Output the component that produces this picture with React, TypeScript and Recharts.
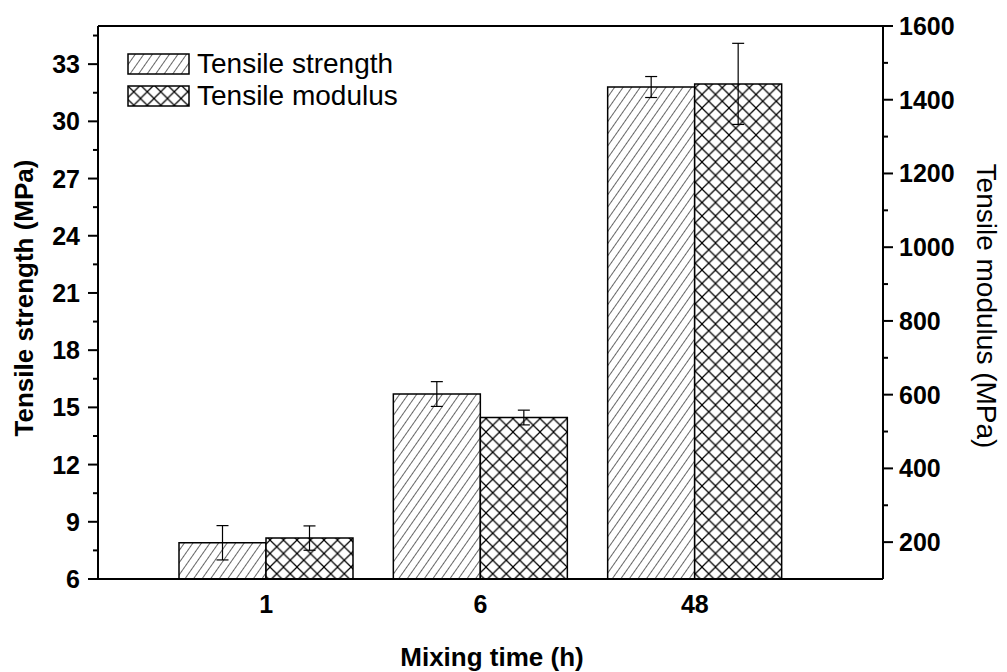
import React from 'react';
import { BarChart, Bar, XAxis, YAxis, ErrorBar, Legend, Label } from 'recharts';

// Mixing time groups (h)
const categories = ['1', '6', '48'];
// Tensile strength (MPa) and its standard deviation
const strength = [7.9, 15.7, 31.8];
const strengthErr = [0.9, 0.65, 0.55];
// Tensile modulus (MPa) and its standard deviation
const modulus = [211, 538, 1443];
const modulusErr = [33, 20, 110];

// Left axis: labelled every 3 MPa, minor marks halfway between
const leftTicks = [6, 7.5, 9, 10.5, 12, 13.5, 15, 16.5, 18, 19.5, 21, 22.5, 24, 25.5, 27, 28.5, 30, 31.5, 33, 34.5];
const leftMajor = [6, 9, 12, 15, 18, 21, 24, 27, 30, 33];
// Right axis: labelled every 200 MPa, minor marks halfway between
const rightTicks = [200, 300, 400, 500, 600, 700, 800, 900, 1000, 1100, 1200, 1300, 1400, 1500, 1600];
const rightMajor = [200, 400, 600, 800, 1000, 1200, 1400, 1600];

const seriesNames = ['Tensile strength', 'Tensile modulus'];
const seriesPatterns = ['hatchStrength', 'hatchModulus'];

const data = categories.map((cat, i) => ({
  cat,
  strength: strength[i],
  sErr: strengthErr[i],
  modulus: modulus[i],
  mErr: modulusErr[i],
}));

const FONT = '"Liberation Sans", Arial, Helvetica, sans-serif';

const LeftTick = (props: any) => {
  const { x, y, payload } = props;
  const major = leftMajor.includes(payload.value);
  return (
    <g>
      <line x1={x} x2={x - (major ? 10 : 5)} y1={y} y2={y} stroke="#000" strokeWidth={2} />
      {major && (
        <text x={x - 18} y={y} dy="0.36em" textAnchor="end" fontFamily={FONT} fontWeight="bold" fontSize={25} fill="#000">
          {payload.value}
        </text>
      )}
    </g>
  );
};

const RightTick = (props: any) => {
  const { x, y, payload } = props;
  const major = rightMajor.includes(payload.value);
  return (
    <g>
      <line x1={x} x2={x + (major ? 10 : 5)} y1={y} y2={y} stroke="#000" strokeWidth={2} />
      {major && (
        <text x={x + 16} y={y} dy="0.36em" textAnchor="start" fontFamily={FONT} fontWeight="bold" fontSize={25} fill="#000">
          {payload.value}
        </text>
      )}
    </g>
  );
};

const BottomTick = (props: any) => {
  const { x, y, payload } = props;
  return (
    <text x={x} y={y + 25} dy="0.36em" textAnchor="middle" fontFamily={FONT} fontWeight="bold" fontSize={25} fill="#000">
      {payload.value}
    </text>
  );
};

const LegendContent = () => (
  <div style={{ fontFamily: FONT, fontSize: 28, color: '#000', lineHeight: '30px' }}>
    {seriesNames.map((name, i) => (
      <div key={name} style={{ display: 'flex', alignItems: 'center', height: 32 }}>
        <svg width={63} height={22} style={{ display: 'block' }}>
          <rect x={1} y={1} width={61} height={20} fill={`url(#${seriesPatterns[i]})`} stroke="#000" strokeWidth={1.5} />
        </svg>
        <span style={{ marginLeft: 7, whiteSpace: 'nowrap' }}>{name}</span>
      </div>
    ))}
  </div>
);

export default function App() {
  return (
    <div style={{ position: 'absolute', left: 0, top: 0, width: 1007, height: 672, background: '#fff' }}>
      <svg width={0} height={0} style={{ position: 'absolute' }}>
        <defs>
          <pattern id="hatchStrength" patternUnits="userSpaceOnUse" width={7} height={7} patternTransform="rotate(35)">
            <rect width={7} height={7} fill="#fff" />
            <line x1={0} y1={0} x2={0} y2={7} stroke="#000" strokeWidth={1.2} />
          </pattern>
          <pattern id="hatchModulus" patternUnits="userSpaceOnUse" width={13.5} height={13.5}>
            <rect width={13.5} height={13.5} fill="#fff" />
            <line x1={0} y1={0} x2={13.5} y2={13.5} stroke="#000" strokeWidth={1.2} />
            <line x1={0} y1={13.5} x2={13.5} y2={0} stroke="#000" strokeWidth={1.2} />
          </pattern>
        </defs>
      </svg>
      <BarChart
        width={1007}
        height={672}
        data={data}
        margin={{ top: 25, right: 0, bottom: 0, left: 0 }}
        barGap={0}
        barSize={87}
      >
        <XAxis
          xAxisId="top"
          orientation="top"
          dataKey="cat"
          height={1}
          tick={false}
          tickLine={false}
          axisLine={{ stroke: '#000', strokeWidth: 2 }}
          padding={{ left: 61, right: 81 }}
        />
        <XAxis
          xAxisId="b"
          dataKey="cat"
          height={93}
          tick={<BottomTick />}
          tickLine={false}
          tickSize={0}
          tickMargin={0}
          axisLine={{ stroke: '#000', strokeWidth: 2 }}
          padding={{ left: 61, right: 81 }}
        >
          <Label
            content={() => (
              <text x={492} y={657} dy="0.36em" textAnchor="middle" fontFamily={FONT} fontWeight="bold" fontSize={26} fill="#000">
                Mixing time (h)
              </text>
            )}
          />
        </XAxis>
        <YAxis
          yAxisId="l"
          orientation="left"
          width={98}
          type="number"
          domain={[6, 35]}
          ticks={leftTicks}
          interval={0}
          allowDataOverflow
          tick={<LeftTick />}
          tickLine={false}
          tickSize={0}
          tickMargin={0}
          axisLine={{ stroke: '#000', strokeWidth: 2 }}
        >
          <Label
            content={() => (
              <text x={24} y={298} dy="0.36em" transform="rotate(-90 24 298)" textAnchor="middle" fontFamily={FONT} fontWeight="bold" fontSize={26} fill="#000">
                Tensile strength (MPa)
              </text>
            )}
          />
        </YAxis>
        <YAxis
          yAxisId="r"
          orientation="right"
          width={124}
          type="number"
          domain={[100, 1600]}
          ticks={rightTicks}
          interval={0}
          allowDataOverflow
          tick={<RightTick />}
          tickLine={false}
          tickSize={0}
          tickMargin={0}
          axisLine={{ stroke: '#000', strokeWidth: 2 }}
        >
          <Label
            content={() => (
              <text x={987} y={306} dy="0.36em" transform="rotate(90 987 306)" textAnchor="middle" fontFamily={FONT} fontSize={28} fill="#000">
                Tensile modulus (MPa)
              </text>
            )}
          />
        </YAxis>
        <Legend
          layout="vertical"
          align="center"
          verticalAlign="middle"
          content={<LegendContent />}
          wrapperStyle={{ position: 'absolute', left: 127, top: 48, width: 'auto', height: 'auto' }}
        />
        <Bar
          xAxisId="b"
          yAxisId="l"
          dataKey="strength"
          name={seriesNames[0]}
          fill="url(#hatchStrength)"
          stroke="#000"
          strokeWidth={1.5}
          isAnimationActive={false}
        >
          <ErrorBar dataKey="sErr" width={6} stroke="#000" strokeWidth={1.2} isAnimationActive={false} />
        </Bar>
        <Bar
          xAxisId="b"
          yAxisId="r"
          dataKey="modulus"
          name={seriesNames[1]}
          fill="url(#hatchModulus)"
          stroke="#000"
          strokeWidth={1.5}
          isAnimationActive={false}
        >
          <ErrorBar dataKey="mErr" width={6} stroke="#000" strokeWidth={1.2} isAnimationActive={false} />
        </Bar>
      </BarChart>
    </div>
  );
}
